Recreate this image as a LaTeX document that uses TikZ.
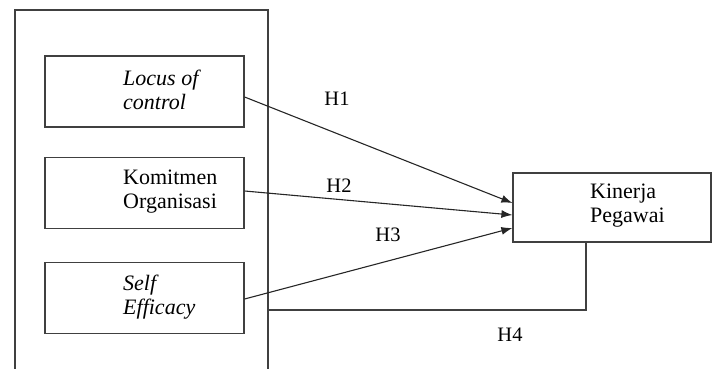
\documentclass[tikz,border=0pt]{standalone}
\usepackage{fontspec}
\setmainfont{Liberation Serif}
\usetikzlibrary{arrows.meta, positioning}

\begin{document}
\begin{tikzpicture}[x=1pt,y=-1pt,
  box/.style={draw=black!75,line width=1.2pt,minimum width=199pt,minimum height=71pt,inner sep=0pt},
  txt/.style={anchor=west,inner sep=0pt,align=left,font=\fontsize{22}{24}\selectfont},
  hyp/.style={inner sep=0pt,font=\fontsize{20.5}{24}\selectfont},
  link/.style={black!85,line width=1.1pt,-{Latex[length=11pt,width=8pt]}}]
  \useasboundingbox (0,0) rectangle (714,369);
  \draw[black!75,line width=1.2pt] (15,369) -- (15,10) -- (268,10) -- (268,369);
  \coordinate (frameR) at (268,310);

  \node[box] (loc) at (144.5,91.5) {};
  \node[box] (kom) at (144.5,193) {};
  \node[box] (self) at (144.5,298) {};
  \node[box,minimum width=198pt,minimum height=69pt] (kin) at (612,207.5) {};

  \node[txt] (locT) at (123,90) {\textit{Locus of}\\\textit{control}};
  \node[txt] (komT) at (123,192) {Komitmen\\Organisasi};
  \node[txt] (selfT) at (123,297) {\textit{Self}\\\textit{Efficacy}};
  \node[txt] (kinT) at (590,206) {Kinerja\\Pegawai};

  \draw[link] ([yshift=-5.5pt]loc.east) -- ([yshift=4.5pt]kin.west);
  \draw[link] ([yshift=2pt]kom.east) -- ([yshift=-7.5pt]kin.west);
  \draw[link] ([yshift=-1pt]self.east) -- ([yshift=-20.5pt]kin.west);
  \draw[black!75,line width=1.2pt] ([xshift=-26pt]kin.south) |- (frameR);

  \node[hyp] (h1) at (337,99) {H1};
  \node[hyp] (h2) at (339,186) {H2};
  \node[hyp] (h3) at (388,235) {H3};
  \node[hyp] (h4) at (510,335) {H4};
\end{tikzpicture}
\end{document}
